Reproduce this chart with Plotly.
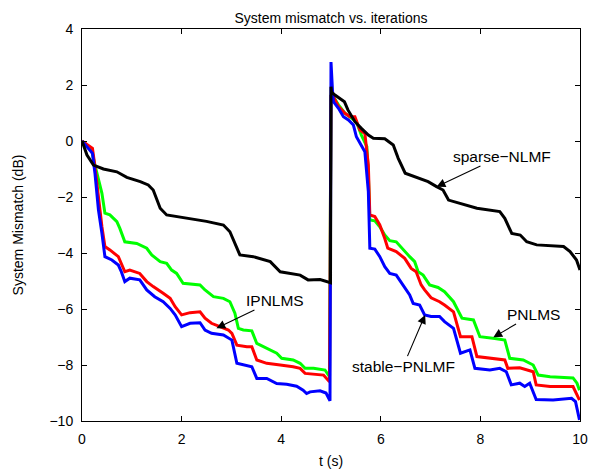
import plotly.graph_objects as go

# ---- data ----
t_black = [0, 0.1, 0.23, 0.43, 0.70, 0.80, 0.90, 1.17, 1.33, 1.43, 1.57, 1.70, 1.90, 2.24, 2.50, 2.84, 2.97, 3.17,
           3.44, 3.78, 3.98, 4.38, 4.54, 4.78, 4.99,
           5.0, 5.01, 5.08, 5.18, 5.27, 5.34, 5.48, 5.61, 5.75, 5.85, 6.08, 6.25, 6.35, 6.49, 6.69, 6.95, 7.12, 7.25,
           7.36, 7.59, 7.93, 8.39, 8.49, 8.63, 8.80, 8.93, 9.13, 9.67, 9.80, 9.93, 10.0]
y_black = [0, -0.5, -0.86, -1.0, -1.1, -1.2, -1.30, -1.45, -1.57, -1.75, -2.4, -2.64, -2.70, -2.80, -2.87, -3.0, -3.24, -4.07,
           -4.13, -4.31, -4.67, -4.79, -4.96, -4.95, -5.06,
           1.94, 1.75, 1.64, 1.52, 1.40, 1.11, 0.69, 0.45, 0.21, 0.10, 0.08, -0.14, -0.62, -1.15, -1.27, -1.45, -1.63, -1.75,
           -2.11, -2.23, -2.40, -2.52, -2.76, -3.30, -3.36, -3.60, -3.71, -3.77, -3.95, -4.25, -4.61]

t_green = [0, 0.19, 0.26, 0.33, 0.40, 0.46, 0.56, 0.70, 0.76, 0.86, 1.10, 1.30, 1.40, 1.57, 1.70, 1.80, 1.90, 2.03,
           2.24, 2.37, 2.47, 2.64, 2.84, 2.97, 3.07, 3.14, 3.24, 3.41, 3.51, 3.71, 3.91, 4.01, 4.24, 4.38, 4.48, 4.65,
           4.88, 4.97,
           5.0, 5.05, 5.15, 5.28, 5.41, 5.51, 5.61, 5.72, 5.75, 5.78, 5.88, 5.98, 6.08, 6.18, 6.31, 6.45, 6.58, 6.68,
           6.75, 6.85, 6.98, 7.15, 7.28, 7.46, 7.63, 7.86, 7.99, 8.29, 8.49, 8.59, 8.86, 9.06, 9.16, 9.40, 9.86, 9.94, 9.99]
y_green = [0, -0.3, -0.86, -1.39, -1.87, -2.58, -2.64, -2.88, -3.12, -3.60, -3.66, -3.83, -4.07, -4.31, -4.37, -4.61, -4.73, -5.08,
           -5.12, -5.14, -5.32, -5.56, -5.62, -5.74, -6.15, -6.69, -6.75, -6.78, -7.23, -7.41, -7.58, -7.76, -7.82, -7.94, -8.12, -8.12,
           -8.18, -8.42,
           1.64, 1.58, 1.29, 0.99, 0.81, 0.69, 0.21, -0.20, -1.21, -2.82, -2.85, -3.06, -3.36, -3.56, -3.60, -3.89, -4.13, -4.31,
           -4.67, -4.79, -5.14, -5.23, -5.38, -5.74, -6.33, -6.39, -6.99, -7.05, -7.11, -7.76, -7.82, -8.0, -8.36, -8.42, -8.46, -8.65, -8.9]

t_red = [0, 0.21, 0.26, 0.33, 0.40, 0.46, 0.56, 0.73, 0.79, 0.86, 0.96, 1.16, 1.30, 1.43, 1.63, 1.77, 1.87, 2.0,
         2.17, 2.37, 2.47, 2.60, 2.77, 2.94, 3.01, 3.11, 3.31, 3.41, 3.51, 3.71, 3.98, 4.24, 4.38, 4.48, 4.85, 4.97,
         5.0, 5.05, 5.15, 5.28, 5.38, 5.48, 5.58, 5.68, 5.75, 5.78, 5.88, 5.98, 6.08, 6.14, 6.31, 6.48, 6.61, 6.71,
         6.81, 6.88, 7.01, 7.18, 7.28, 7.46, 7.60, 7.83, 7.93, 8.26, 8.49, 8.55, 8.79, 9.06, 9.12, 9.40, 9.86, 9.94, 9.99]
y_red = [0, -0.26, -0.92, -2.11, -3.06, -3.77, -3.89, -4.13, -4.37, -4.67, -4.61, -4.73, -5.02, -5.20, -5.44, -5.62, -5.92, -6.21,
         -6.13, -6.10, -6.33, -6.51, -6.63, -6.75, -6.87, -7.29, -7.35, -7.35, -7.82, -7.94, -8.0, -8.06, -8.12, -8.30, -8.36, -8.6,
         1.64, 1.58, 1.23, 0.99, 0.87, 0.87, 0.39, 0.27, -0.86, -2.64, -2.70, -3.0, -3.48, -3.83, -3.95, -4.19, -4.55, -4.67,
         -5.14, -5.32, -5.60, -5.74, -5.86, -6.10, -6.99, -6.99, -7.70, -7.76, -7.82, -8.12, -8.10, -8.24, -8.71, -8.77, -8.77, -9.07, -9.25]

t_blue = [0, 0.21, 0.26, 0.33, 0.40, 0.46, 0.60, 0.73, 0.79, 0.86, 0.96, 1.16, 1.30, 1.46, 1.63, 1.77, 1.87, 2.0,
          2.17, 2.37, 2.47, 2.60, 2.84, 3.01, 3.11, 3.31, 3.41, 3.51, 3.71, 3.91, 4.11, 4.31, 4.44, 4.51, 4.58, 4.78,
          4.90, 4.98,
          5.0, 5.03, 5.05, 5.15, 5.25, 5.35, 5.45, 5.51, 5.61, 5.68, 5.75, 5.78, 5.88, 5.98, 6.08, 6.18, 6.31, 6.45,
          6.58, 6.65, 6.78, 6.88, 7.01, 7.18, 7.28, 7.46, 7.60, 7.79, 7.89, 8.19, 8.39, 8.52, 8.62, 8.79, 8.89, 8.99,
          9.12, 9.46, 9.83, 9.91, 9.99]
y_blue = [0, -0.44, -1.15, -2.46, -3.30, -4.13, -4.25, -4.43, -4.67, -5.02, -4.90, -4.96, -5.32, -5.56, -5.74, -5.98, -6.21, -6.63,
          -6.51, -6.49, -6.75, -6.87, -6.93, -7.11, -7.94, -8.02, -8.06, -8.48, -8.48, -8.66, -8.69, -8.76, -8.90, -9.02, -8.96, -8.92,
          -9.0, -9.28,
          2.82, 1.8, 1.40, 1.17, 0.87, 0.75, 0.57, 0.15, -0.14, -0.38, -1.81, -3.83, -3.86, -4.13, -4.49, -4.73, -4.79, -5.14,
          -5.50, -5.80, -5.86, -6.21, -6.27, -6.27, -6.45, -6.69, -7.58, -7.46, -8.12, -8.18, -8.12, -8.24, -8.71, -8.65, -8.77, -8.65,
          -9.23, -9.25, -9.19, -9.31, -9.96]

x_ticks = [0, 2, 4, 6, 8, 10]
y_ticks = [-10, -8, -6, -4, -2, 0, 2, 4]

# annotations: label, arrow head (x, y), text centre (x, y)
ann_labels = ["IPNLMS", "sparse\u2212NLMF", "PNLMS", "stable\u2212PNLMF"]
ann_head_x = [2.70, 7.12, 8.26, 6.89]
ann_head_y = [-6.69, -1.63, -7.01, -6.21]
ann_text_x = [3.88, 8.43, 9.06, 6.45]
ann_text_y = [-5.68, -0.54, -6.18, -8.04]

FONT = "Liberation Sans, Arial, Helvetica, sans-serif"

fig = go.Figure()
for t, y, c in [(t_green, y_green, "#00ff00"), (t_red, y_red, "#ff0000"),
                (t_blue, y_blue, "#0000ff"), (t_black, y_black, "#000000")]:
    fig.add_trace(go.Scatter(x=t, y=y, mode="lines", line=dict(color=c, width=3), showlegend=False))

for lab, hx, hy, tx, ty in zip(ann_labels, ann_head_x, ann_head_y, ann_text_x, ann_text_y):
    fig.add_annotation(x=hx, y=hy, ax=tx, ay=ty, xref="x", yref="y", axref="x", ayref="y",
                       text=lab, showarrow=True, arrowhead=2, arrowsize=1.6, arrowwidth=1.1,
                       arrowcolor="black", font=dict(family=FONT, size=15.5, color="black"))

axis_common = dict(showline=True, linecolor="black", linewidth=1, mirror="ticks", ticks="inside",
                   ticklen=5, tickcolor="black", showgrid=False, zeroline=False, automargin=False,
                   ticklabelstandoff=5,
                   tickfont=dict(family=FONT, size=14, color="black"))

fig.update_layout(
    width=605, height=464,
    margin=dict(l=74, r=33, t=21, b=51),
    paper_bgcolor="white", plot_bgcolor="white",
    title=dict(text="System mismatch vs. iterations", x=0.5, xanchor="center", xref="paper",
               y=0.979, yanchor="middle", yref="container",
               font=dict(family=FONT, size=14, color="black")),
    xaxis=dict(range=[0, 10], tickvals=x_ticks,
               title=dict(text="t (s)", font=dict(family=FONT, size=14, color="black"), standoff=10),
               **axis_common),
    yaxis=dict(range=[-10, 4], tickvals=y_ticks,
               title=dict(text="System Mismatch (dB)", font=dict(family=FONT, size=14, color="black"), standoff=22),
               **axis_common),
)

fig.write_html("out.html")
